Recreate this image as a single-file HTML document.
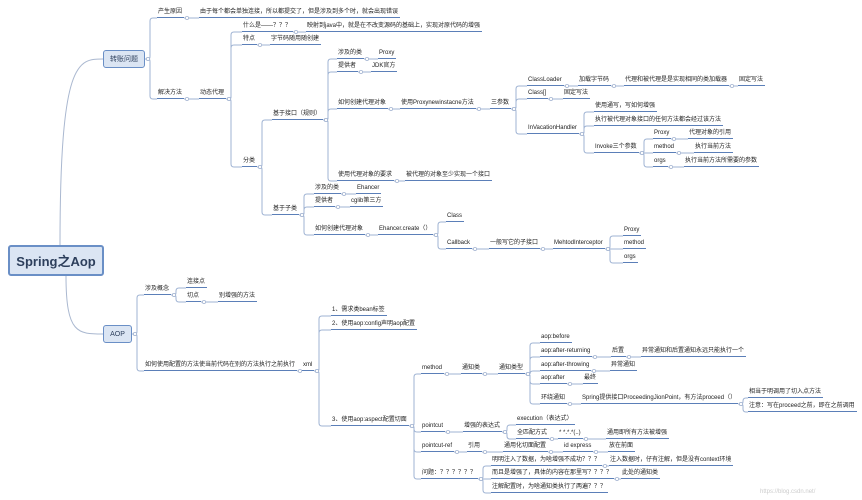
<!DOCTYPE html>
<html><head><meta charset="utf-8">
<style>
body{margin:0;width:862px;height:500px;background:#fff;position:relative;overflow:hidden;font-family:"Liberation Sans","Noto Sans CJK SC",sans-serif;}
.n{position:absolute;font-size:6px;line-height:8px;height:8px;color:#222;white-space:nowrap;border-bottom:1.3px solid #5b7fb8;padding:0 2px 1px 1px;}
.b{position:absolute;background:#dbe5f3;border:1.5px solid #6a8fc6;border-radius:3px;color:#2d3f5c;display:flex;align-items:center;justify-content:center;}
svg{position:absolute;left:0;top:0;}
</style></head><body>
<svg id="s" width="862" height="500"></svg>
<div class="b" id="root" style="left:8px;top:245px;width:92px;height:27px;font-size:13px;font-weight:bold;border-width:2px">Spring之Aop</div>
<div class="b" id="zz" style="left:103px;top:50px;width:40px;height:16px;font-size:7px">转账问题</div>
<div class="b" id="aop" style="left:103px;top:325px;width:27px;height:16px;font-size:7px">AOP</div>

<div class="n" id="a1" style="left:157px;top:8px">产生原因</div>
<div class="n" id="a2" style="left:199px;top:8px">由于每个都会单独连接，所以都提交了，但是涉及到多个时，就会出现错误</div>
<div class="n" id="a3" style="left:157px;top:89px">解决方法</div>
<div class="n" id="a4" style="left:199px;top:89px">动态代理</div>
<div class="n" id="b1" style="left:242px;top:22px">什么是——？？？</div>
<div class="n" id="b2" style="left:306px;top:22px">映射到java中，就是在不改变源码的基础上，实现对原代码的增强</div>
<div class="n" id="b3" style="left:242px;top:35px">特点</div>
<div class="n" id="b4" style="left:270px;top:35px">字节码随用随创建</div>
<div class="n" id="b5" style="left:242px;top:157px">分类</div>
<div class="n" id="c1" style="left:272px;top:110px">基于接口（规则）</div>
<div class="n" id="c2" style="left:272px;top:205px">基于子类</div>
<div class="n" id="d1" style="left:337px;top:49px">涉及的类</div>
<div class="n" id="d2" style="left:378px;top:49px">Proxy</div>
<div class="n" id="d3" style="left:337px;top:62px">提供者</div>
<div class="n" id="d4" style="left:371px;top:62px">JDK官方</div>
<div class="n" id="d5" style="left:337px;top:99px">如何创建代理对象</div>
<div class="n" id="d6" style="left:400px;top:99px">使用Proxynewinstacne方法</div>
<div class="n" id="d7" style="left:490px;top:99px">三参数</div>
<div class="n" id="d8" style="left:337px;top:171px">使用代理对象的要求</div>
<div class="n" id="d9" style="left:405px;top:171px">被代理的对象至少实现一个接口</div>
<div class="n" id="e1" style="left:527px;top:76px">ClassLoader</div>
<div class="n" id="e2" style="left:578px;top:76px">加载字节码</div>
<div class="n" id="e3" style="left:624px;top:76px">代理和被代理是是实现相同的类加载器</div>
<div class="n" id="e4" style="left:738px;top:76px">固定写法</div>
<div class="n" id="e5" style="left:527px;top:89px">Class[]</div>
<div class="n" id="e6" style="left:563px;top:89px">固定写法</div>
<div class="n" id="e7" style="left:527px;top:124px">InVacationHandler</div>
<div class="n" id="f1" style="left:594px;top:102px">使用通写，写如何增强</div>
<div class="n" id="f2" style="left:594px;top:116px">执行被代理对象接口的任何方法都会经过该方法</div>
<div class="n" id="f3" style="left:594px;top:143px">Invoke三个参数</div>
<div class="n" id="g1" style="left:653px;top:129px">Proxy</div>
<div class="n" id="g2" style="left:688px;top:129px">代理对象的引用</div>
<div class="n" id="g3" style="left:653px;top:143px">method</div>
<div class="n" id="g4" style="left:694px;top:143px">执行当前方法</div>
<div class="n" id="g5" style="left:653px;top:157px">orgs</div>
<div class="n" id="g6" style="left:684px;top:157px">执行当前方法所需要的参数</div>
<div class="n" id="h1" style="left:314px;top:184px">涉及的类</div>
<div class="n" id="h2" style="left:356px;top:184px">Ehancer</div>
<div class="n" id="h3" style="left:314px;top:197px">提供者</div>
<div class="n" id="h4" style="left:350px;top:197px">cglib第三方</div>
<div class="n" id="h5" style="left:314px;top:225px">如何创建代理对象</div>
<div class="n" id="h6" style="left:378px;top:225px">Ehancer.create（）</div>
<div class="n" id="i1" style="left:446px;top:212px">Class</div>
<div class="n" id="i2" style="left:446px;top:239px">Callback</div>
<div class="n" id="i3" style="left:489px;top:239px">一般写它的子接口</div>
<div class="n" id="i4" style="left:553px;top:239px">MehtodInterceptor</div>
<div class="n" id="j1" style="left:623px;top:226px">Proxy</div>
<div class="n" id="j2" style="left:623px;top:239px">method</div>
<div class="n" id="j3" style="left:623px;top:253px">orgs</div>

<div class="n" id="k1" style="left:144px;top:285px">涉及概念</div>
<div class="n" id="k2" style="left:186px;top:278px">连接点</div>
<div class="n" id="k3" style="left:186px;top:292px">切点</div>
<div class="n" id="k4" style="left:218px;top:292px">别增强的方法</div>
<div class="n" id="k5" style="left:144px;top:361px">如何使用配置的方法使当前代码在别的方法执行之前执行</div>
<div class="n" id="k6" style="left:302px;top:361px">xml</div>
<div class="n" id="l1" style="left:331px;top:306px">1、需求类bean标签</div>
<div class="n" id="l2" style="left:331px;top:320px">2、使用aop:config声明aop配置</div>
<div class="n" id="l3" style="left:331px;top:416px">3、使用aop:aspect配置切面</div>
<div class="n" id="m1" style="left:421px;top:364px">method</div>
<div class="n" id="m2" style="left:461px;top:364px">通知类</div>
<div class="n" id="m3" style="left:498px;top:364px">通知类型</div>
<div class="n" id="o1" style="left:540px;top:333px">aop:before</div>
<div class="n" id="o2" style="left:540px;top:347px">aop:after-returning</div>
<div class="n" id="o3" style="left:611px;top:347px">后置</div>
<div class="n" id="o4" style="left:641px;top:347px">异常通知和后置通知永远只能执行一个</div>
<div class="n" id="o5" style="left:540px;top:361px">aop:after-throwing</div>
<div class="n" id="o6" style="left:610px;top:361px">异常通知</div>
<div class="n" id="o7" style="left:540px;top:374px">aop:after</div>
<div class="n" id="o8" style="left:583px;top:374px">最终</div>
<div class="n" id="o9" style="left:540px;top:394px">环绕通知</div>
<div class="n" id="p1" style="left:581px;top:394px">Spring提供接口ProceedingJionPoint，有方法proceed（）</div>
<div class="n" id="p2" style="left:748px;top:388px">相当于明调用了切入点方法</div>
<div class="n" id="p3" style="left:748px;top:402px">注意：写在proceed之前，即在之前调用</div>
<div class="n" id="q1" style="left:421px;top:422px">pointcut</div>
<div class="n" id="q2" style="left:463px;top:422px">增强的表达式</div>
<div class="n" id="q3" style="left:516px;top:415px">execution（表达式）</div>
<div class="n" id="q4" style="left:516px;top:429px">全匹配方式</div>
<div class="n" id="q5" style="left:558px;top:429px">* *.*.*(..)</div>
<div class="n" id="q6" style="left:606px;top:429px">通用即所有方法被增强</div>
<div class="n" id="r1" style="left:421px;top:442px">pointcut-ref</div>
<div class="n" id="r2" style="left:467px;top:442px">引用</div>
<div class="n" id="r3" style="left:503px;top:442px">通用化切面配置</div>
<div class="n" id="r4" style="left:563px;top:442px">id express</div>
<div class="n" id="r5" style="left:608px;top:442px">放在前面</div>
<div class="n" id="t1" style="left:421px;top:469px">问题：？？？？？？</div>
<div class="n" id="t2" style="left:491px;top:456px">明明注入了数据，为啥增强不成功？？？</div>
<div class="n" id="t3" style="left:609px;top:456px">注入数据时，仔有注解，但是没有context环境</div>
<div class="n" id="t4" style="left:491px;top:469px">而且是增强了，具体的内容在那里写？？？？</div>
<div class="n" id="t5" style="left:621px;top:469px">此处的通知类</div>
<div class="n" id="t6" style="left:491px;top:483px">注解配置时，为啥通知类执行了两遍？？？</div>
<div style="position:absolute;left:760px;top:489px;font-size:6px;color:#ccc">https://blog.csdn.net/</div>
<script>
var E=[["root","zz"],["root","aop"],["zz","a1"],["a1","a2"],["zz","a3"],["a3","a4"],["a4","b1"],["b1","b2"],["a4","b3"],["b3","b4"],["a4","b5"],["b5","c1"],["b5","c2"],
["c1","d1"],["d1","d2"],["c1","d3"],["d3","d4"],["c1","d5"],["d5","d6"],["d6","d7"],["c1","d8"],["d8","d9"],["d7","e1"],["e1","e2"],["e2","e3"],["e3","e4"],["d7","e5"],["e5","e6"],["d7","e7"],
["e7","f1"],["e7","f2"],["e7","f3"],["f3","g1"],["g1","g2"],["f3","g3"],["g3","g4"],["f3","g5"],["g5","g6"],["c2","h1"],["h1","h2"],["c2","h3"],["h3","h4"],["c2","h5"],["h5","h6"],["h6","i1"],["h6","i2"],["i2","i3"],["i3","i4"],["i4","j1"],["i4","j2"],["i4","j3"],
["aop","k1"],["k1","k2"],["k1","k3"],["k3","k4"],["aop","k5"],["k5","k6"],["k6","l1"],["k6","l2"],["k6","l3"],["l3","m1"],["m1","m2"],["m2","m3"],["m3","o1"],["m3","o2"],["o2","o3"],["o3","o4"],["m3","o5"],["o5","o6"],["m3","o7"],["o7","o8"],["m3","o9"],["o9","p1"],["p1","p2"],["p1","p3"],
["l3","q1"],["q1","q2"],["q2","q3"],["q2","q4"],["q4","q5"],["q5","q6"],["l3","r1"],["r1","r2"],["r2","r3"],["r3","r4"],["r4","r5"],["l3","t1"],["t1","t2"],["t2","t3"],["t1","t4"],["t4","t5"],["t1","t6"]];
var s=document.getElementById("s"),h="";
function r(id){var e=document.getElementById(id);return{l:e.offsetLeft,t:e.offsetTop,w:e.offsetWidth,h:e.offsetHeight};}
E.forEach(function(p){var a=r(p[0]),b=r(p[1]);var x1,y1;
if(p[0]=="root"){x1=a.l+(p[1]=="zz"?52:58);y1=p[1]=="zz"?a.t:a.t+a.h;var x2=b.l,y2=b.t+b.h/2;
h+='<path d="M'+x1+' '+y1+' C'+x1+' '+(y2)+' '+(x2-25)+' '+y2+' '+x2+' '+y2+'" fill="none" stroke="#aab8d0" stroke-width="1"/>';return;}
x1=a.l+a.w;y1=(a.t+a.h);if(document.getElementById(p[0]).className=="b")y1=a.t+a.h/2;
var x2=b.l,y2=b.t+b.h;var mx=x1+5;
if(Math.abs(y2-y1)<1){h+='<line x1="'+x1+'" y1="'+y1+'" x2="'+x2+'" y2="'+y2+'" stroke="#9fb3d3" stroke-width="1"/>';}
else{h+='<path d="M'+x1+' '+y1+' L'+(mx-1)+' '+y1+' Q'+mx+' '+y1+' '+mx+' '+(y1+(y2>y1?3:-3))+' L'+mx+' '+(y2+(y2>y1?-3:3))+' Q'+mx+' '+y2+' '+(mx+3)+' '+y2+' L'+x2+' '+y2+'" fill="none" stroke="#9fb3d3" stroke-width="1"/>';}
h+='<circle cx="'+(x1+3)+'" cy="'+y1+'" r="1.6" fill="#fff" stroke="#a7b7d3" stroke-width="0.8"/>';
});
s.innerHTML=h;
</script>
</body></html>
